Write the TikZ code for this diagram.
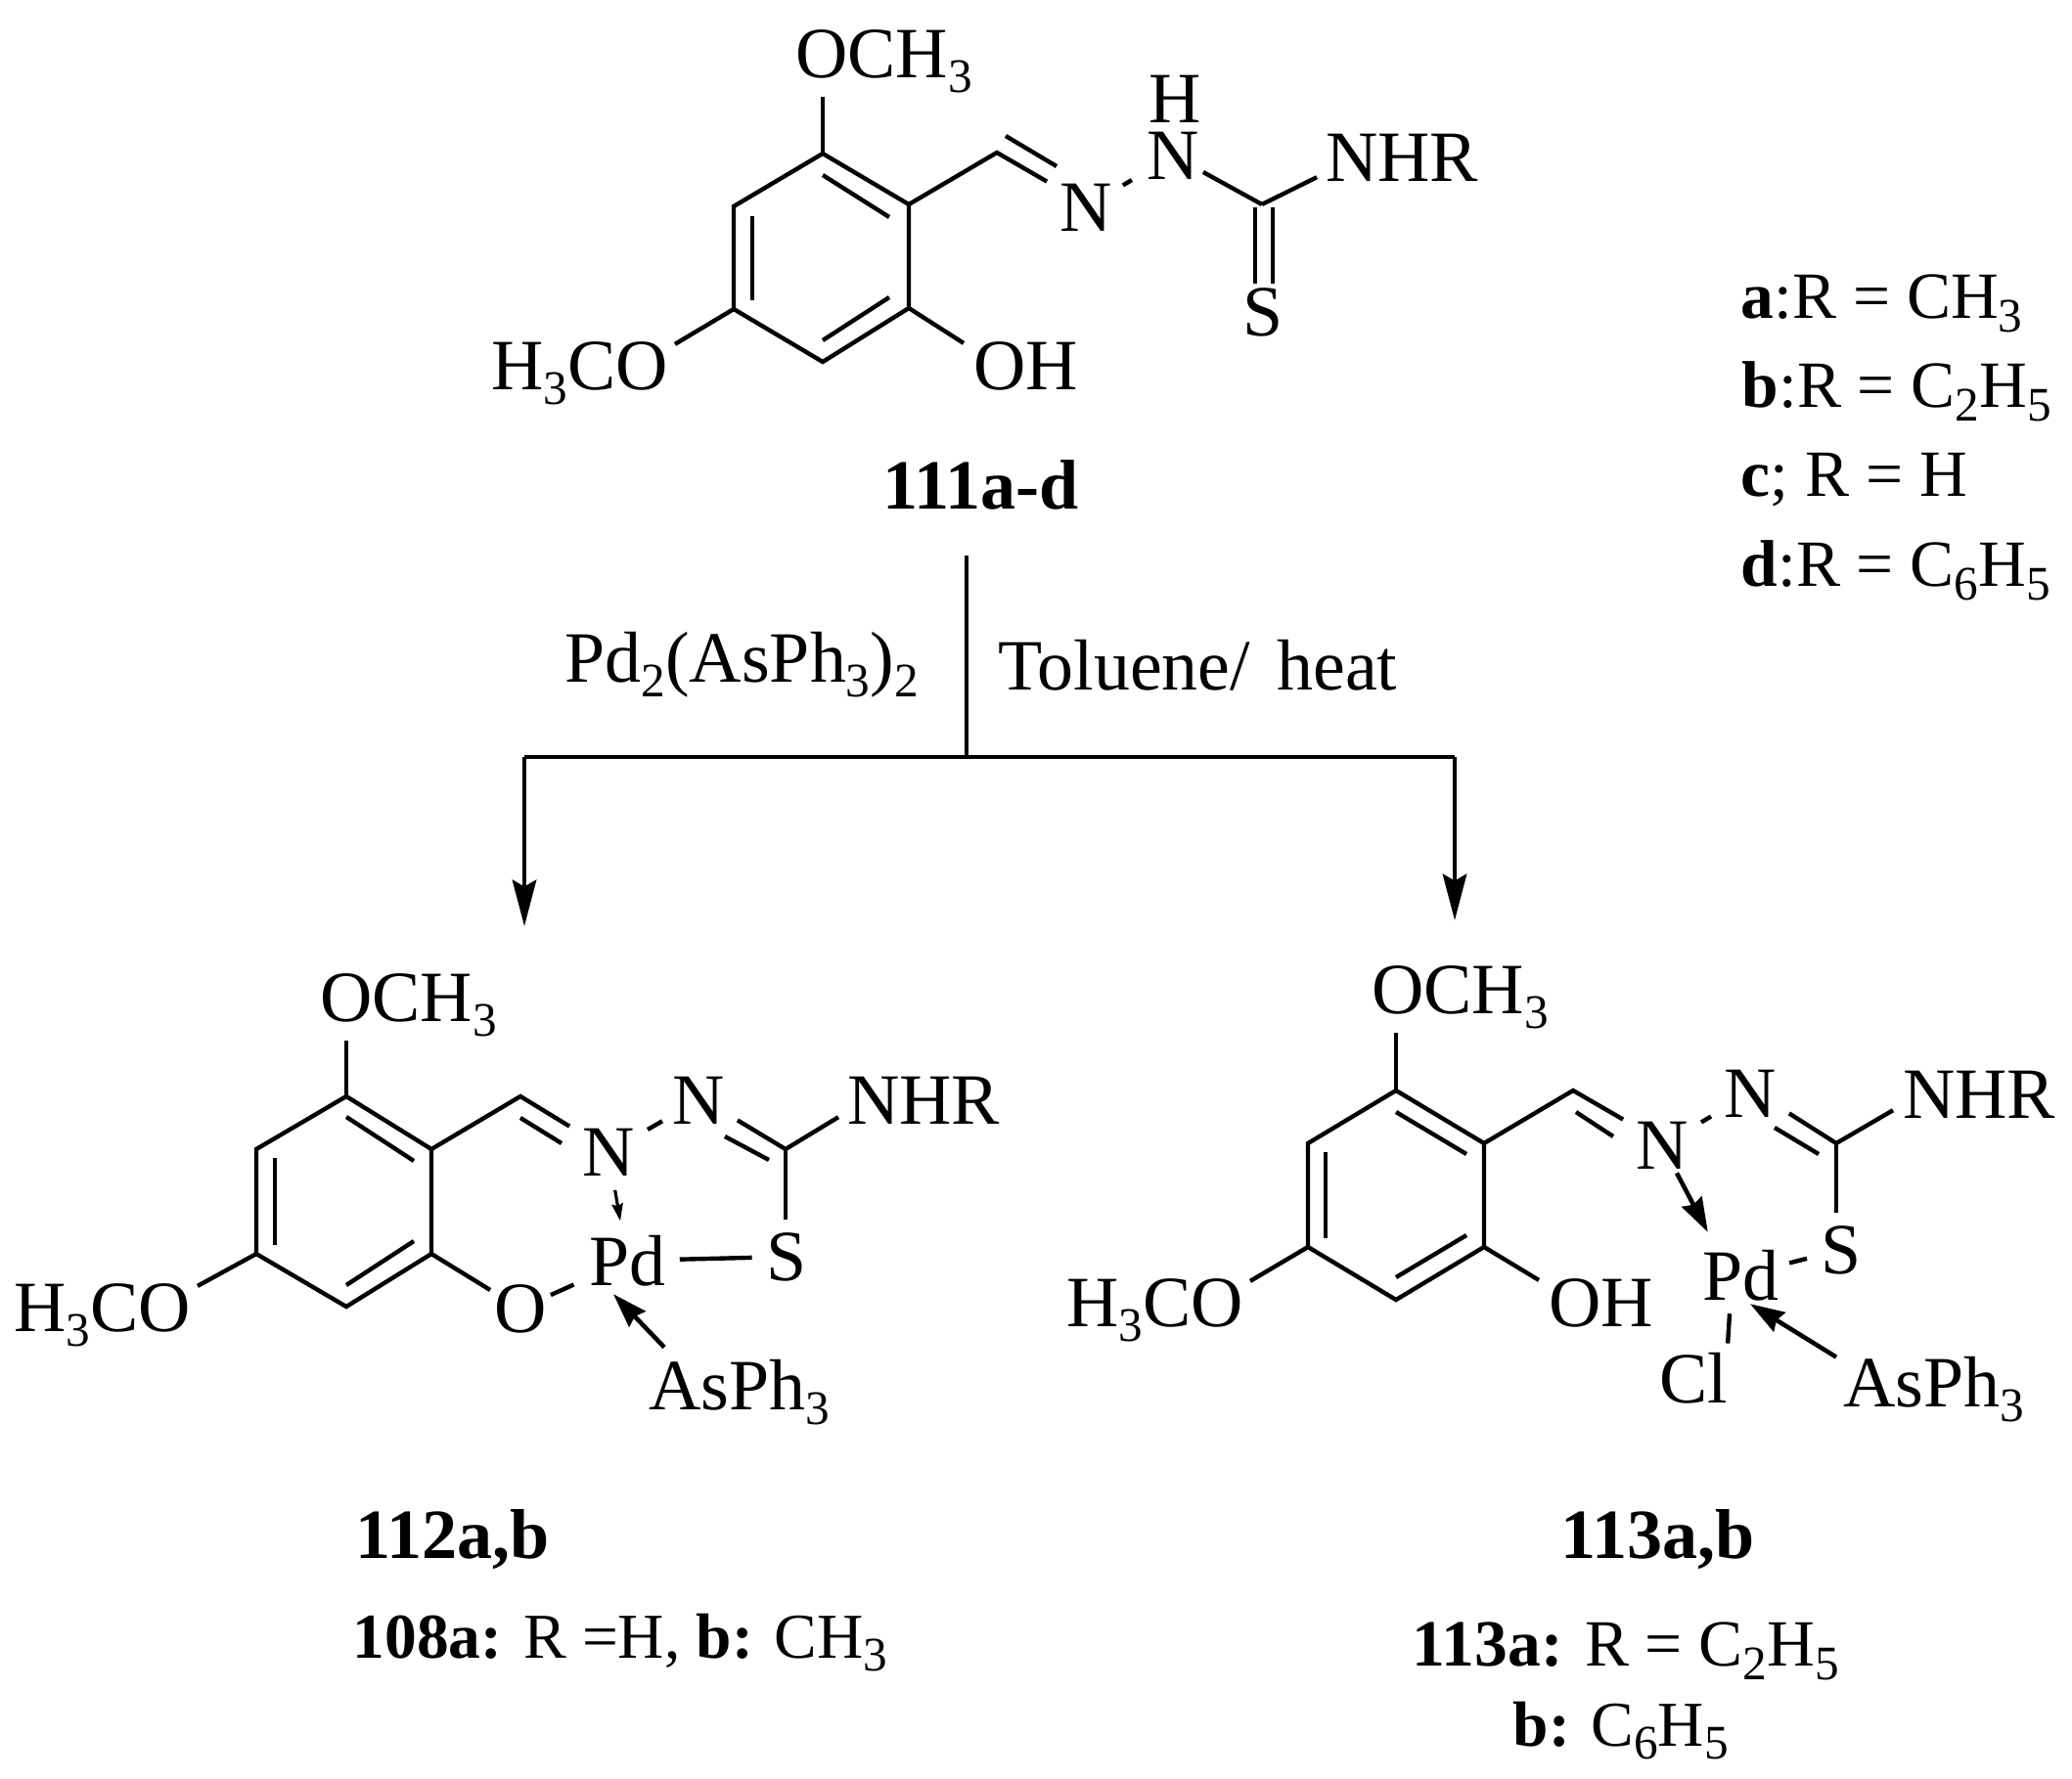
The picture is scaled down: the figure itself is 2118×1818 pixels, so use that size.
\documentclass[tikz,border=0pt]{standalone}
\usepackage{fontspec}
\setmainfont{Liberation Serif}
\usetikzlibrary{positioning,arrows.meta}

\newcommand{\chemsub}[1]{\raisebox{-0.21em}{\fontsize{14}{14}\selectfont #1}}

\tikzset{
	atom/.style={inner sep=1pt, font=\fontsize{21}{24}\selectfont},
	chem/.style={inner sep=1pt, anchor=base west, font=\fontsize{21}{24}\selectfont},
	tag/.style={inner sep=0pt, anchor=base west, font=\fontsize{20.5}{24}\selectfont},
	note/.style={inner sep=0pt, anchor=base west, font=\fontsize{19.2}{24}\selectfont},
	tightnote/.style={inner sep=0pt, anchor=base west, font=\fontsize{18.6}{24}\selectfont},
	bond/.style={line width=1.25pt},
	flow/.style={line width=0.95pt},
	flowtip/.style={-{Stealth[length=13.5pt,width=7pt,inset=2pt]}, line width=0.95pt},
	dative/.style={-{Stealth[length=10pt,width=6.5pt,inset=1pt]}, line width=1.3pt},
	smalldative/.style={-{Stealth[length=5pt,width=3.2pt,inset=0.6pt]}, line width=0.9pt}
}

\begin{document}
\begin{tikzpicture}[x=0.01cm, y=-0.01cm]
	\useasboundingbox (0,0) rectangle (2118,1818);

	% starting compound
	\coordinate (A1) at (841,157);
	\coordinate (A2) at (929,209);
	\coordinate (A3) at (929,315);
	\coordinate (A4) at (841,370);
	\coordinate (A5) at (750,316);
	\coordinate (A6) at (750,211);
	\coordinate (A7) at (1019,156);
	\coordinate (A8) at (1290,209);
	\coordinate (Ai1) at (841,179);
	\coordinate (Ai2) at (909,222);
	\coordinate (Ai3) at (769,221);
	\coordinate (Ai4) at (769,307);
	\coordinate (Ai5) at (841,348);
	\coordinate (Ai6) at (909,304);
	\coordinate (Ai7) at (1028,139);
	\coordinate (Ai8) at (1080,170);
	\coordinate (Ai9) at (1283,212);
	\coordinate (Ai10) at (1301,212);
	\node[chem] (OMeA) at (809,79) {OCH\chemsub{3}};
	\node[chem] (MeOA) at (498,398) {H\chemsub{3}CO};
	\node[chem] (OHA) at (991,398) {OH};
	\node[chem] (NHRA) at (1351,185) {NHR};
	\node[atom] (NaA) at (1110,212) {N};
	\node[atom] (NbA) at (1199,159) {N};
	\node[atom] (HA) at (1201,101) {H};
	\node[atom] (SA) at (1291,319) {S};
	\node[tag] (nameA) at (902,520) {\textbf{111a-d}};
	\draw[bond] (A1) -- (A2) -- (A3) -- (A4) -- (A5) -- (A6) -- cycle;
	\draw[bond] (Ai1) -- (Ai2);
	\draw[bond] (Ai3) -- (Ai4);
	\draw[bond] (Ai5) -- (Ai6);
	\draw[bond] (A1) -- (A1 |- OMeA.south);
	\draw[bond] (A5) -- ([shift={(3,7)}]MeOA.north east);
	\draw[bond] (A3) -- ([shift={(-6,6)}]OHA.north west);
	\draw[bond] (A2) -- (A7) -- ([shift={(-9,2)}]NaA.north west);
	\draw[bond] (Ai7) -- (Ai8);
	\draw[bond, shorten <=2.3pt, shorten >=3.7pt] (NaA) -- (NbA);
	\draw[bond] (NbA) -- (A8);
	\draw[bond] (A8) -- ([shift={(-5,-8)}]NHRA.south west);
	\draw[bond] (Ai9) -- (Ai9 |- SA.north);
	\draw[bond] (Ai10) -- (Ai10 |- SA.north);

	% arrows
	\coordinate (top) at (988,568);
	\coordinate (mid) at (988,774);
	\coordinate (left) at (536,774);
	\coordinate (right) at (1487,774);
	\coordinate (leftend) at (536,947);
	\coordinate (rightend) at (1487,941);
	\draw[flow] (top) -- (mid);
	\draw[flow] (left) -- (right);
	\draw[flowtip] (left) -- (leftend);
	\draw[flowtip] (right) -- (rightend);
	\node[chem, inner sep=0pt] (reagent) at (577,697) {Pd\chemsub{2}(AsPh\chemsub{3})\chemsub{2}};
	\node[chem, inner sep=0pt] (solvent) at (1020,705) {Toluene/\hspace{0.12em} heat};

	% list of R groups
	\node[note] (Ra) at (1779,325) {\textbf{a}:R = CH\chemsub{3}};
	\node[note] (Rb) at (1780,416) {\textbf{b}:R = C\chemsub{2}H\chemsub{5}};
	\node[note] (Rc) at (1779,507) {\textbf{c}; R = H};
	\node[note] (Rd) at (1779,599) {\textbf{d}:R = C\chemsub{6}H\chemsub{5}};

	% left product
	\coordinate (B1) at (354,1121);
	\coordinate (B2) at (441,1175);
	\coordinate (B3) at (441,1282);
	\coordinate (B4) at (354,1336);
	\coordinate (B5) at (262,1282);
	\coordinate (B6) at (262,1175);
	\coordinate (B7) at (532,1121);
	\coordinate (B8) at (803,1175);
	\coordinate (Bi1) at (354,1142);
	\coordinate (Bi2) at (423,1187);
	\coordinate (Bi3) at (281,1184);
	\coordinate (Bi4) at (281,1273);
	\coordinate (Bi5) at (354,1314);
	\coordinate (Bi6) at (423,1269);
	\coordinate (Bi7) at (532,1143);
	\coordinate (Bi8) at (574,1169);
	\coordinate (Bi9) at (786,1186);
	\coordinate (Bi10) at (741,1162);
	\node[chem] (OMeB) at (323,1044) {OCH\chemsub{3}};
	\node[chem] (MeOB) at (10,1361) {H\chemsub{3}CO};
	\node[chem] (NHRB) at (862,1149) {NHR};
	\node[chem] (AsB) at (659,1441) {AsPh\chemsub{3}};
	\node[atom] (NaB) at (622,1178) {N};
	\node[atom] (NbB) at (714,1125) {N};
	\node[atom] (SB) at (804,1285) {S};
	\node[atom] (PdB) at (641,1289) {Pd};
	\node[atom] (OB) at (532,1338) {O};
	\node[tag] (nameB) at (363,1593) {\textbf{112a,b}};
	\node[tightnote] (noteB) at (360,1695) {\textbf{108a:} R =H, \textbf{b:} CH\chemsub{3}};
	\draw[bond] (B1) -- (B2) -- (B3) -- (B4) -- (B5) -- (B6) -- cycle;
	\draw[bond] (Bi1) -- (Bi2);
	\draw[bond] (Bi3) -- (Bi4);
	\draw[bond] (Bi5) -- (Bi6);
	\draw[bond] (B1) -- (B1 |- OMeB.south);
	\draw[bond] (B5) -- ([shift={(3,7)}]MeOB.north east);
	\draw[bond] (B3) -- (OB);
	\draw[bond] (B2) -- (B7) -- ([shift={(-9,2)}]NaB.north west);
	\draw[bond] (Bi7) -- (Bi8);
	\draw[bond, shorten <=3pt, shorten >=2pt] (NaB) -- (NbB);
	\draw[bond] (B8) -- ([shift={(9,-8)}]NbB.south east);
	\draw[bond] (Bi9) -- (Bi10);
	\draw[bond] (B8) -- ([shift={(-5,-11)}]NHRB.south west);
	\draw[bond, shorten >=2.5pt] (B8) -- (B8 |- SB.north);
	\draw[bond, shorten <=3pt, shorten >=3pt] (PdB) -- (SB);
	\draw[bond, shorten >=3.5pt] (OB) -- (PdB);
	\draw[smalldative, shorten <=3pt, shorten >=3pt] (NaB) -- (PdB);
	\draw[dative] ([shift={(20,-8)}]AsB.north west) -- ([shift={(-14,4)}]PdB.south);

	% right product
	\coordinate (D1) at (1427,1115);
	\coordinate (D2) at (1517,1169);
	\coordinate (D3) at (1517,1275);
	\coordinate (D4) at (1427,1329);
	\coordinate (D5) at (1337,1275);
	\coordinate (D6) at (1337,1169);
	\coordinate (D7) at (1608,1115);
	\coordinate (D8) at (1877,1169);
	\coordinate (Di1) at (1427,1137);
	\coordinate (Di2) at (1499,1180);
	\coordinate (Di3) at (1355,1178);
	\coordinate (Di4) at (1355,1266);
	\coordinate (Di5) at (1427,1306);
	\coordinate (Di6) at (1499,1263);
	\coordinate (Di7) at (1611,1137);
	\coordinate (Di8) at (1649,1162);
	\coordinate (Di9) at (1859,1180);
	\coordinate (Di10) at (1814,1153);
	\node[chem] (OMeD) at (1398,1036) {OCH\chemsub{3}};
	\node[chem] (MeOD) at (1086,1356) {H\chemsub{3}CO};
	\node[chem] (OHD) at (1579,1356) {OH};
	\node[chem] (NHRD) at (1941,1143) {NHR};
	\node[chem] (AsD) at (1880,1438) {AsPh\chemsub{3}};
	\node[chem] (ClD) at (1692,1434) {Cl};
	\node[atom] (NaD) at (1699,1171) {N};
	\node[atom] (NbD) at (1789,1118) {N};
	\node[atom] (SD) at (1882,1278) {S};
	\node[atom] (PdD) at (1779,1304) {Pd};
	\node[tag] (nameD) at (1595,1593) {\textbf{113a,b}};
	\node[note] (noteD) at (1443,1703) {\textbf{113a:} R = C\chemsub{2}H\chemsub{5}};
	\node[tightnote] (noteE) at (1546,1785) {\textbf{b:} C\chemsub{6}H\chemsub{5}};
	\draw[bond] (D1) -- (D2) -- (D3) -- (D4) -- (D5) -- (D6) -- cycle;
	\draw[bond] (Di1) -- (Di2);
	\draw[bond] (Di3) -- (Di4);
	\draw[bond] (Di5) -- (Di6);
	\draw[bond] (D1) -- (D1 |- OMeD.south);
	\draw[bond] (D5) -- ([shift={(3,7)}]MeOD.north east);
	\draw[bond] (D3) -- ([shift={(-6,6)}]OHD.north west);
	\draw[bond] (D2) -- (D7) -- ([shift={(-9,2)}]NaD.north west);
	\draw[bond] (Di7) -- (Di8);
	\draw[bond, shorten <=3pt, shorten >=3pt] (NaD) -- (NbD);
	\draw[bond] (D8) -- ([shift={(9,-8)}]NbD.south east);
	\draw[bond] (Di9) -- (Di10);
	\draw[bond] (D8) -- ([shift={(-6,-12)}]NHRD.south west);
	\draw[bond, shorten >=2.5pt] (D8) -- (D8 |- SD.north);
	\draw[bond, shorten <=2pt, shorten >=3pt] (PdD) -- (SD);
	\draw[bond] ([shift={(-11,9)}]PdD.south) -- ([shift={(35,-5)}]ClD.north);
	\draw[dative] (NaD) -- ([shift={(10,-14)}]PdD.north west);
	\draw[dative] ([shift={(-3,5)}]AsD.north west) -- ([shift={(10,-1)}]PdD.south);
\end{tikzpicture}
\end{document}
